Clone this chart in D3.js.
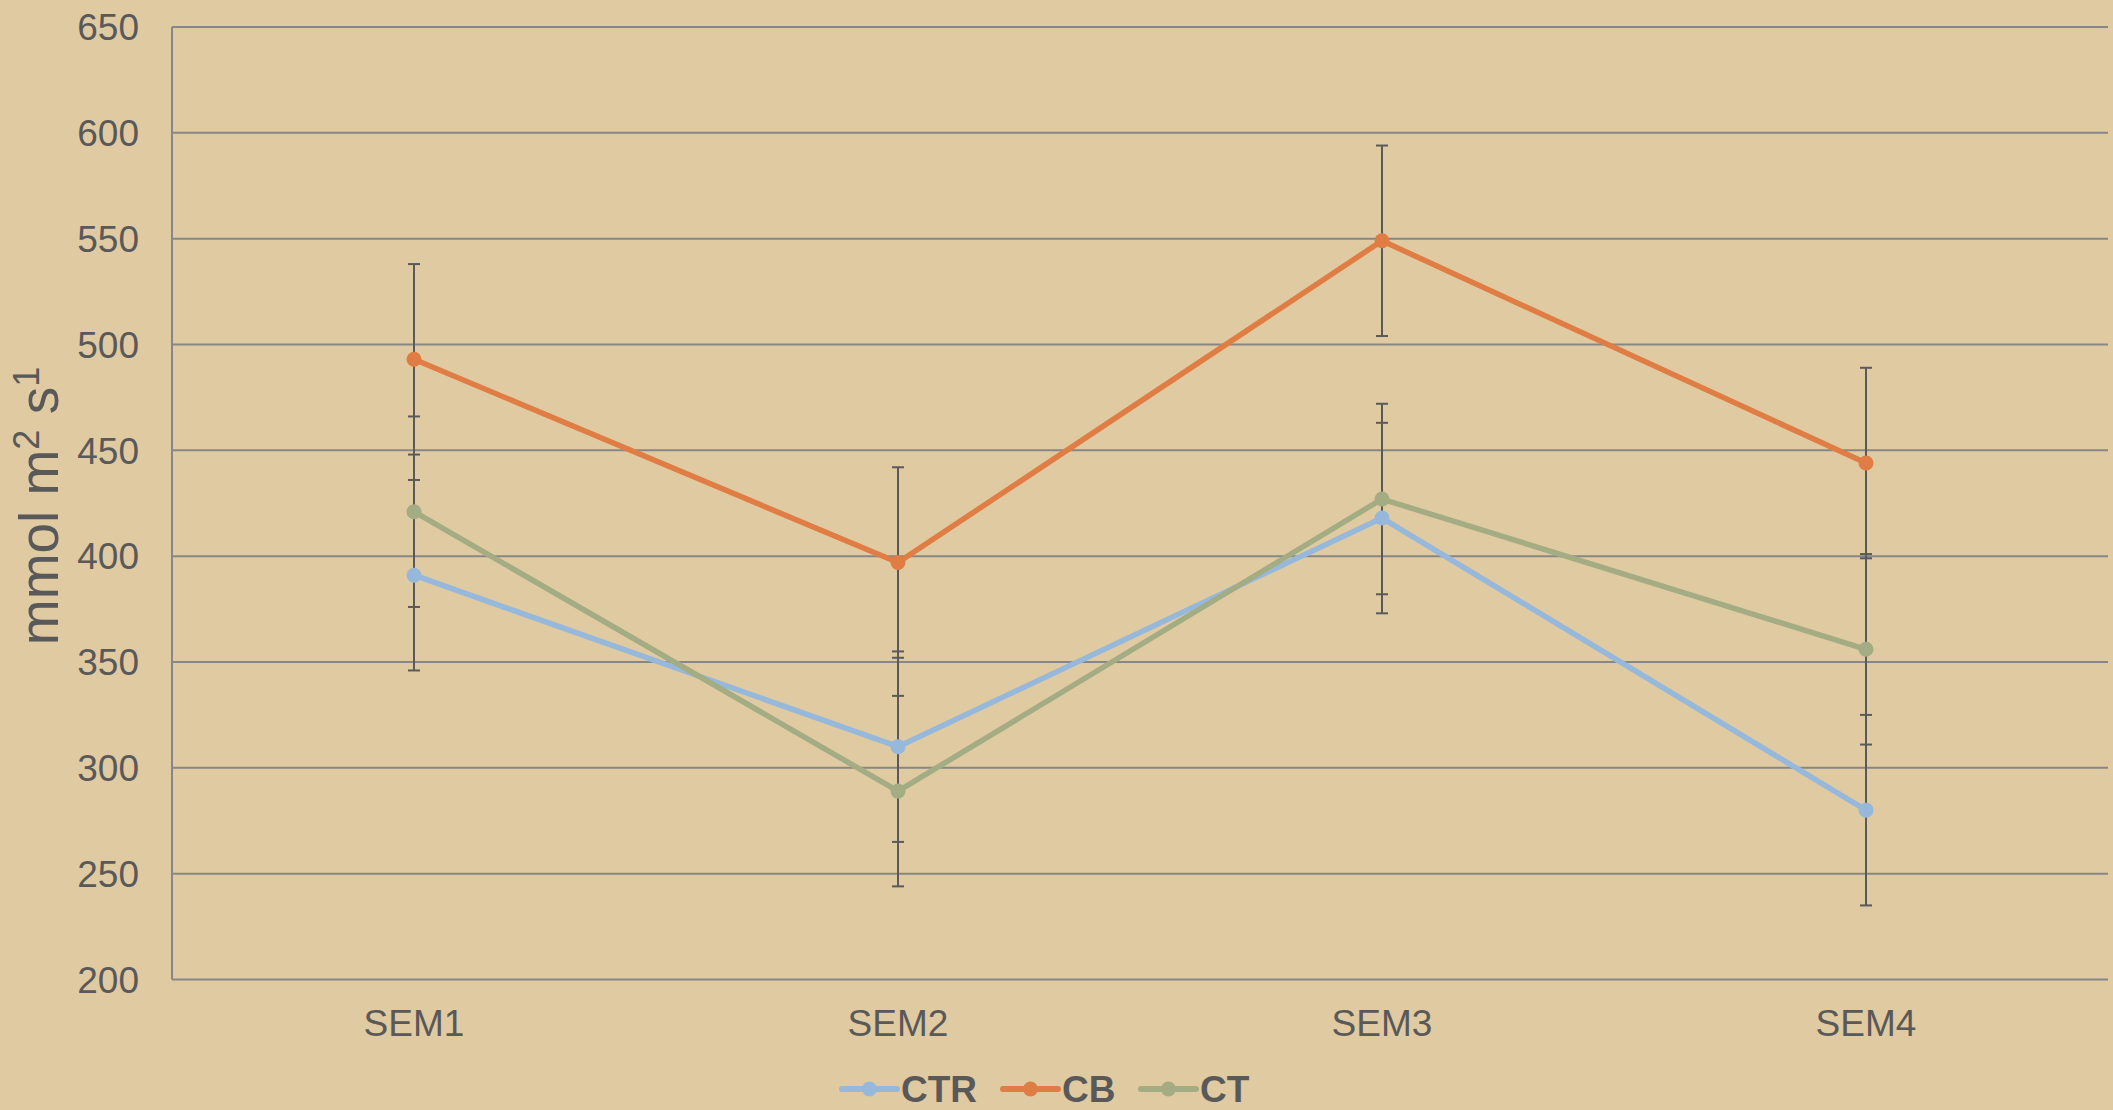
<!DOCTYPE html>
<html>
<head>
<meta charset="utf-8">
<script src="https://cdn.jsdelivr.net/npm/d3@7"></script>
<style>
  html, body { margin: 0; padding: 0; background: #E0CAA1; }
  svg { display: block; }
  text { font-family: "Liberation Sans", Arial, sans-serif; fill: #595959; }
</style>
</head>
<body>
<svg id="chart" width="2113" height="1110"></svg>
<script>
const categories = ["SEM1", "SEM2", "SEM3", "SEM4"];
const seriesNames = ["CTR", "CB", "CT"];
const ctrValues = [391, 310, 418, 280];
const cbValues  = [493, 397, 549, 444];
const ctValues  = [421, 289, 427, 356];
const ctrErrors = [45, 45, 45, 45];
const cbErrors  = [45, 45, 45, 45];
const ctErrors  = [45, 45, 45, 45];
const yTicks = [200, 250, 300, 350, 400, 450, 500, 550, 600, 650];

(function () {
const colors = { CTR: "#95B8DB", CB: "#E07D45", CT: "#A3AC82" };
const series = [
  { name: "CTR", values: ctrValues, errors: ctrErrors },
  { name: "CB",  values: cbValues,  errors: cbErrors },
  { name: "CT",  values: ctValues,  errors: ctErrors }
];

const svg = d3.select("#chart");
const pLeft = 172, pRight = 2108, pTop = 27, pBottom = 979.5;

const x = d3.scaleBand().domain(categories).range([pLeft, pRight]).paddingInner(0).paddingOuter(0);
const y = d3.scaleLinear().domain([200, 650]).range([pBottom, pTop]);
const cx = c => x(c) + x.bandwidth() / 2;

// gridlines
svg.append("g").selectAll("line").data(yTicks).join("line")
  .attr("x1", pLeft).attr("x2", pRight)
  .attr("y1", d => y(d)).attr("y2", d => y(d))
  .attr("stroke", "#878787").attr("stroke-width", 2);

// left axis line
svg.append("line").attr("x1", pLeft).attr("x2", pLeft).attr("y1", y(650)).attr("y2", y(200))
  .attr("stroke", "#878787").attr("stroke-width", 2);

// y tick labels
svg.append("g").selectAll("text").data(yTicks).join("text")
  .attr("x", 139).attr("y", d => y(d))
  .attr("dy", "0.36em")
  .attr("text-anchor", "end")
  .attr("font-size", 37)
  .text(d => d);

// x labels
svg.append("g").selectAll("text").data(categories).join("text")
  .attr("x", d => cx(d)).attr("y", 1036)
  .attr("text-anchor", "middle")
  .attr("font-size", 37)
  .text(d => d);

// y axis title
const title = svg.append("text")
  .attr("transform", "translate(58,506) rotate(-90)")
  .attr("text-anchor", "middle")
  .attr("font-size", 55);
title.append("tspan").text("mmol m");
title.append("tspan").attr("font-size", 36).attr("dy", -19).text("2");
title.append("tspan").attr("dy", 19).text(" s");
title.append("tspan").attr("font-size", 36).attr("dy", -19).text("1");

// error bars
series.forEach(s => {
  const g = svg.append("g").attr("stroke", "#5A5A5A").attr("stroke-width", 2);
  categories.forEach((c, i) => {
    const v = s.values[i], e = s.errors[i];
    const xx = cx(c);
    g.append("line").attr("x1", xx).attr("x2", xx).attr("y1", y(v + e)).attr("y2", y(v - e));
    g.append("line").attr("x1", xx - 6).attr("x2", xx + 6).attr("y1", y(v + e)).attr("y2", y(v + e));
    g.append("line").attr("x1", xx - 6).attr("x2", xx + 6).attr("y1", y(v - e)).attr("y2", y(v - e));
  });
});

// lines and markers
const line = d3.line().x((d, i) => cx(categories[i])).y(d => y(d));
series.forEach(s => {
  svg.append("path").datum(s.values)
    .attr("d", line)
    .attr("fill", "none")
    .attr("stroke", colors[s.name])
    .attr("stroke-width", 5.5)
    .attr("stroke-linejoin", "round");
  svg.append("g").selectAll("circle").data(s.values).join("circle")
    .attr("cx", (d, i) => cx(categories[i]))
    .attr("cy", d => y(d))
    .attr("r", 7.5)
    .attr("fill", colors[s.name]);
});

// legend
const legendItems = [
  { name: "CTR", x: 842 },
  { name: "CB", x: 1003 },
  { name: "CT", x: 1141 }
];
const ly = 1089;
legendItems.forEach(it => {
  const g = svg.append("g");
  g.append("line").attr("x1", it.x).attr("x2", it.x + 55).attr("y1", ly).attr("y2", ly)
    .attr("stroke", colors[it.name]).attr("stroke-width", 6).attr("stroke-linecap", "round");
  g.append("circle").attr("cx", it.x + 27.5).attr("cy", ly).attr("r", 7.5).attr("fill", colors[it.name]);
  g.append("text").attr("x", it.x + 59).attr("y", ly).attr("dy", "0.36em")
    .attr("font-size", 37).attr("font-weight", "bold").text(it.name);
});
})();
</script>
</body>
</html>
